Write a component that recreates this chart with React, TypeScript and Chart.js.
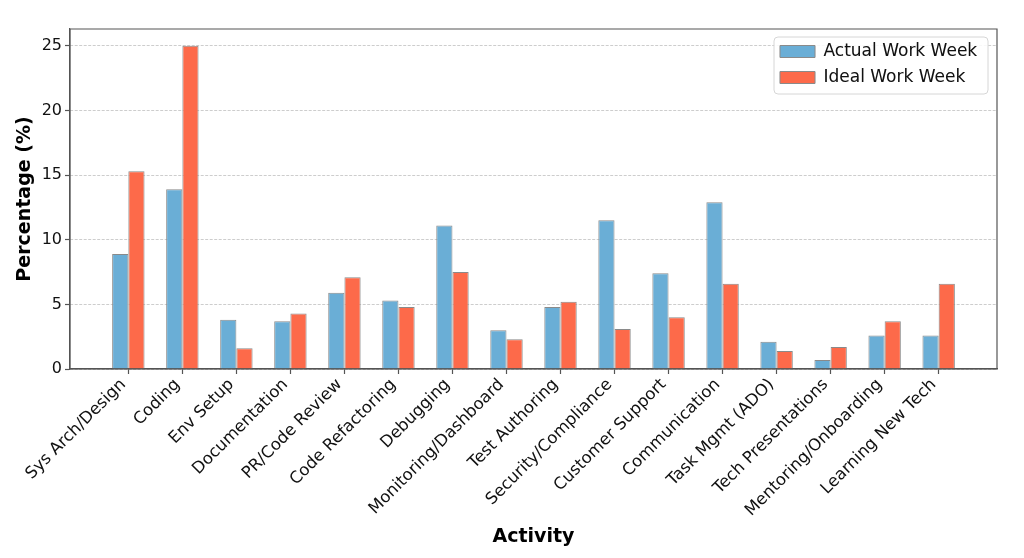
import React, { useEffect, useRef } from "react";
import { Chart, registerables } from "chart.js";

Chart.register(...registerables);

const categories = [
  "Sys Arch/Design",
  "Coding",
  "Env Setup",
  "Documentation",
  "PR/Code Review",
  "Code Refactoring",
  "Debugging",
  "Monitoring/Dashboard",
  "Test Authoring",
  "Security/Compliance",
  "Customer Support",
  "Communication",
  "Task Mgmt (ADO)",
  "Tech Presentations",
  "Mentoring/Onboarding",
  "Learning New Tech",
];

const actualWeek = [8.9, 13.9, 3.8, 3.7, 5.9, 5.3, 11.1, 3.0, 4.8, 11.5, 7.4, 12.9, 2.1, 0.7, 2.6, 2.6];
const idealWeek = [15.3, 25.0, 1.6, 4.3, 7.1, 4.8, 7.5, 2.3, 5.2, 3.1, 4.0, 6.6, 1.4, 1.7, 3.7, 6.6];

const yTicks = [0, 5, 10, 15, 20, 25];

const FONT = "'DejaVu Sans', 'Liberation Sans', sans-serif";
const AXIS = "#555555";

const framePlugin = {
  id: "frameAndLegend",
  afterLayout(chart: any) {
    const lg = chart.legend;
    const ca = chart.chartArea;
    if (!lg || !ca) return;
    const w = lg.width;
    const h = lg.height;
    lg.left = ca.right - 226;
    lg.top = ca.top + 5;
    lg.right = lg.left + w;
    lg.bottom = lg.top + h;
  },
  afterDraw(chart: any) {
    const { ctx, chartArea: ca } = chart;
    ctx.save();
    ctx.setLineDash([]);
    ctx.strokeStyle = AXIS;
    ctx.lineWidth = 1.2;
    ctx.beginPath();
    ctx.moveTo(ca.left, ca.bottom);
    ctx.lineTo(ca.left, ca.top);
    ctx.lineTo(ca.right, ca.top);
    ctx.lineTo(ca.right, ca.bottom);
    ctx.lineTo(ca.left, ca.bottom);
    ctx.stroke();
    const lg = chart.legend;
    if (lg) {
      const x = lg.left + 3;
      const y = lg.top + 3;
      const w = 214;
      const h = 57;
      const r = 4;
      ctx.beginPath();
      ctx.moveTo(x + r, y);
      ctx.lineTo(x + w - r, y);
      ctx.arcTo(x + w, y, x + w, y + r, r);
      ctx.lineTo(x + w, y + h - r);
      ctx.arcTo(x + w, y + h, x + w - r, y + h, r);
      ctx.lineTo(x + r, y + h);
      ctx.arcTo(x, y + h, x, y + h - r, r);
      ctx.lineTo(x, y + r);
      ctx.arcTo(x, y, x + r, y, r);
      ctx.closePath();
      ctx.fillStyle = "rgba(255,255,255,0.85)";
      ctx.fill();
      ctx.strokeStyle = "#d6d6d6";
      ctx.lineWidth = 1;
      ctx.stroke();
      ctx.restore();
      lg.draw();
      return;
    }
    ctx.restore();
  },
};

export default function App() {
  const canvasRef = useRef<HTMLCanvasElement | null>(null);

  useEffect(() => {
    if (!canvasRef.current) return;
    Chart.defaults.font.family = FONT;
    const chart = new Chart(canvasRef.current, {
      type: "bar",
      data: {
        datasets: [
          {
            label: "Actual Work Week",
            data: actualWeek.map((v, i) => ({ x: i, y: v })),
            backgroundColor: "#6aaed6",
            borderColor: "#8a8a8a",
            borderWidth: 1,
          },
          {
            label: "Ideal Work Week",
            data: idealWeek.map((v, i) => ({ x: i, y: v })),
            backgroundColor: "#fd6a4a",
            borderColor: "#8a8a8a",
            borderWidth: 1,
          },
        ],
      },
      options: {
        animation: false,
        responsive: true,
        maintainAspectRatio: false,
        layout: { padding: { left: 10, right: 27, top: 29, bottom: 6 } },
        datasets: { bar: { categoryPercentage: 0.6, barPercentage: 1.0 } },
        plugins: {
          tooltip: { enabled: false },
          legend: {
            position: "chartArea",
            align: "start",
            labels: {
              boxWidth: 35,
              boxHeight: 12,
              padding: 9,
              color: "#111",
              font: { size: 17, family: FONT },
            },
          },
        },
        scales: {
          x: {
            type: "linear",
            min: -1.08,
            max: 16.08,
            offset: false,
            afterBuildTicks: (scale: any) => {
              scale.ticks = categories.map((_, i) => ({ value: i }));
            },
            afterFit: (scale: any) => {
              scale.height = 183;
            },
            ticks: {
              autoSkip: false,
              minRotation: 45,
              maxRotation: 45,
              padding: 1,
              labelOffset: -5,
              color: "#111",
              font: { size: 16.5, family: FONT },
              callback: (value: any) => categories[Number(value)] ?? "",
            },
            grid: {
              display: true,
              offset: false,
              drawOnChartArea: false,
              drawTicks: true,
              tickLength: 5,
              tickColor: AXIS,
              tickWidth: 1.2,
            },
            border: { display: true, color: AXIS, width: 1.2 },
            title: {
              display: true,
              text: "Activity",
              color: "#000",
              font: { size: 19, weight: "bold", family: FONT },
              padding: { top: 4, bottom: 4 },
            },
          },
          y: {
            type: "linear",
            min: 0,
            max: 26.3,
            afterBuildTicks: (scale: any) => {
              scale.ticks = yTicks.map((v) => ({ value: v }));
            },
            afterFit: (scale: any) => {
              scale.width = 60;
            },
            ticks: {
              padding: 3,
              color: "#111",
              font: { size: 16, family: FONT },
            },
            grid: {
              display: true,
              color: "rgba(176,176,176,0.8)",
              lineWidth: 0.8,
              drawTicks: true,
              tickLength: 5,
              tickColor: AXIS,
              tickWidth: 1.2,
              tickBorderDash: [],
            },
            border: { display: true, color: AXIS, width: 1.2, dash: [3, 1.5] },
            title: {
              display: true,
              text: "Percentage (%)",
              color: "#000",
              font: { size: 19, weight: "bold", family: FONT },
              padding: { top: 4, bottom: 4 },
            },
          },
        },
      } as any,
      plugins: [framePlugin],
    });
    return () => chart.destroy();
  }, []);

  return (
    <div style={{ position: "fixed", left: 0, top: 0, width: 1024, height: 558, background: "#fff" }}>
      <canvas ref={canvasRef} />
    </div>
  );
}
